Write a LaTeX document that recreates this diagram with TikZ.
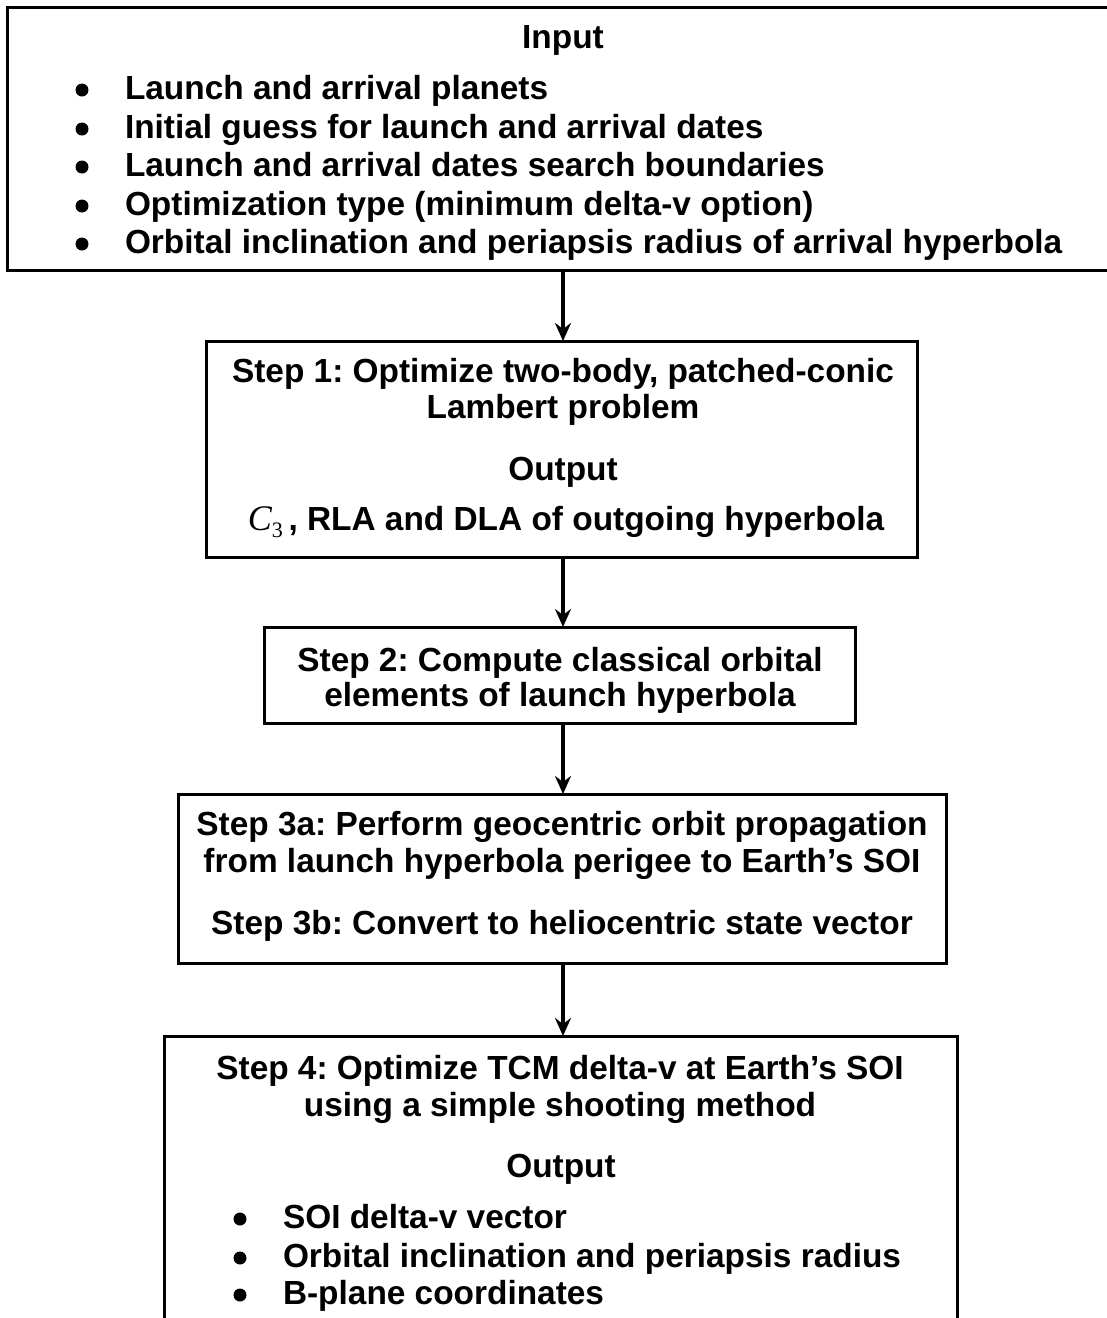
\documentclass[tikz,border=0pt]{standalone}
\usepackage{fontspec}
\setmainfont{Liberation Sans}
\newfontfamily\mathserif{Liberation Serif}
\usetikzlibrary{arrows.meta}
\frenchspacing
\tikzset{
  box/.style={draw=black, line width=3pt, fill=none, inner sep=0pt, outer sep=0pt, anchor=north west},
  txt/.style={inner sep=0pt, outer sep=0pt, anchor=base, font=\fontsize{33.4}{38}\selectfont\bfseries},
  txtl/.style={txt, anchor=base west},
  dot/.style={circle, fill=black, draw=none, inner sep=0pt, minimum size=13pt},
  flow/.style={line width=3.4pt, -{Stealth[length=18pt, width=16pt, inset=6pt]}}
}
\begin{document}
\begin{tikzpicture}[x=1pt, y=-1pt]
\useasboundingbox (0,0) rectangle (1107,1318);
\clip (0,0) rectangle (1107,1318);
\fill[white] (0,0) rectangle (1107,1318);
\coordinate (cx) at (563,0);

% Input box
\node[box, minimum width=1130pt, minimum height=263pt] (inbox) at (7,7) {};
\node[txt] (intitle) at (563,48) {Input};
\foreach \y/\t [count=\i] in {99/Launch and arrival planets,
    138/Initial guess for launch and arrival dates,
    176/Launch and arrival dates search boundaries,
    215/Optimization type (minimum delta-v option),
    253/Orbital inclination and periapsis radius of arrival hyperbola}{
  \node[dot] (inb\i) at (82,\y-9) {};
  \node[txtl] (int\i) at (125,\y) {\t};
}

% Step 1
\node[box, minimum width=711pt, minimum height=216pt] (s1) at (206,341) {};
\node[txt] (s1a) at (563,382) {Step 1: Optimize two-body, patched-conic};
\node[txt] (s1b) at (563,418) {Lambert problem};
\node[txt] (s1c) at (563,480) {Output};
\node[txt] (s1d) at (566,530) {{\mathserif\mdseries\itshape\fontsize{36}{36}\selectfont C}\raisebox{-7pt}{\mathserif\mdseries\fontsize{22}{22}\selectfont 3}\,, RLA and DLA of outgoing hyperbola};

% Step 2
\node[box, minimum width=591pt, minimum height=96pt] (s2) at (264,627) {};
\node[txt] (s2a) at (560,671) {Step 2: Compute classical orbital};
\node[txt] (s2b) at (560,706) {elements of launch hyperbola};

% Step 3
\node[box, minimum width=768pt, minimum height=169pt] (s3) at (178,794) {};
\node[txt] (s3a) at (562,835) {Step 3a: Perform geocentric orbit propagation};
\node[txt] (s3b) at (562,872) {from launch hyperbola perigee to Earth’s SOI};
\node[txt] (s3c) at (562,934) {Step 3b: Convert to heliocentric state vector};

% Step 4
\node[box, minimum width=793pt, minimum height=320pt] (s4) at (164,1036) {};
\node[txt] (s4a) at (560,1079) {Step 4: Optimize TCM delta-v at Earth’s SOI};
\node[txt] (s4b) at (560,1116) {using a simple shooting method};
\node[txt] (s4c) at (561,1177) {Output};
\foreach \y/\t [count=\i] in {1228/SOI delta-v vector,
    1267/Orbital inclination and periapsis radius,
    1304/B-plane coordinates}{
  \node[dot] (ob\i) at (240,\y-9) {};
  \node[txtl] (ot\i) at (283,\y) {\t};
}

% Connectors
\draw[flow] (inbox.south -| cx) -- (s1.north -| cx);
\draw[flow] (s1.south -| cx) -- (s2.north -| cx);
\draw[flow] (s2.south -| cx) -- (s3.north -| cx);
\draw[flow] (s3.south -| cx) -- (s4.north -| cx);
\end{tikzpicture}
\end{document}
